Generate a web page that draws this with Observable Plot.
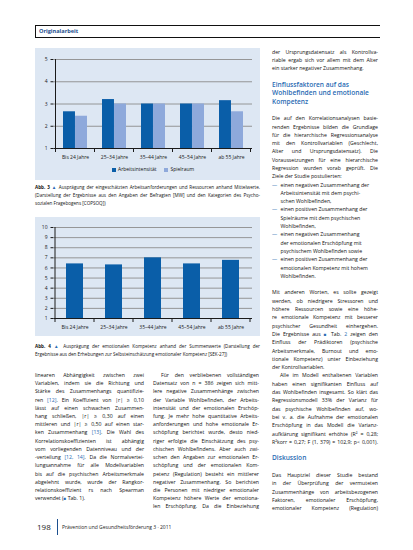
<!DOCTYPE html>
<html><head><meta charset="utf-8">
<script src="https://cdn.jsdelivr.net/npm/d3@7"></script>
<script src="https://cdn.jsdelivr.net/npm/@observablehq/plot@0.6"></script>
<style>
html,body{margin:0;padding:0;background:#fff}
body{width:413px;height:550px;position:relative;overflow:hidden;font-family:"Open Sans",sans-serif;color:#111}
.abs{position:absolute}
.panel{position:absolute;background:#dde7f3}
.col{position:absolute;font-size:5.2px}
.col .ln{text-align:justify;text-align-last:justify;white-space:nowrap;overflow:visible}
.col .ln.l{text-align-last:left}
.col .ln.ind{padding-left:8px}
.col .ln.h{color:#2a6bb3;font-size:6.6px;font-weight:600;text-align-last:left}
.col .ln.li{padding-left:8.5px;text-align-last:left;position:relative}
.col .ln.li .d{position:absolute;left:0;color:#2a6bb3}
.blue{color:#2a6bb3}
.sq{color:#2a6bb3;font-size:4.5px}
.cap{position:absolute;font-size:4.6px;width:225px}
.cap .ln{text-align:justify;text-align-last:justify;white-space:nowrap;height:8px;line-height:8px}
.cap .ln.l{text-align-last:left}
.legend{position:absolute;font-size:5px;display:flex;align-items:center;gap:8px}
.legend span.sw{display:inline-block;width:4px;height:4px;margin-right:2px;vertical-align:middle}
</style></head>
<body>
<div class="abs" style="left:35px;top:25px;width:344px;height:11px;border-top:1px solid #111;border-bottom:1px solid #111;border-left:1px solid #111;"></div>
<div class="abs" style="left:39px;top:27px;font-size:5.6px;font-weight:700;color:#1c4f8e;line-height:8px">Originalarbeit</div>

<div class="panel" style="left:35px;top:48px;width:225px;height:132px"></div>
<div id="chart1" class="abs" style="left:35px;top:48px"></div>
<div id="legend1" class="legend" style="left:112px;top:165px;height:8px"></div>
<div id="cap3" class="cap" style="left:35px;top:183px"></div>

<div class="panel" style="left:35px;top:217px;width:225px;height:119px"></div>
<div id="chart2" class="abs" style="left:35px;top:217px"></div>
<div id="cap4" class="cap" style="left:35px;top:342px"></div>

<div id="colL" class="col" style="left:35px;top:370.9px;width:109px"></div>
<div id="colM" class="col" style="left:153px;top:370.9px;width:106px"></div>
<div id="colR" class="col" style="left:272px;top:47.85px;width:106px"></div>

<div class="abs" style="left:37px;top:521px;font-size:8px;line-height:12px;color:#222">198</div>
<div class="abs" style="left:56.5px;top:519px;width:1px;height:16px;background:#1c4f8e"></div>
<div class="abs" style="left:62px;top:524px;font-size:5px;line-height:6px;color:#222">Prävention und Gesundheitsförderung 3 · 2011</div>

<script>
// ---------- data ----------
const ageGroups = ["Bis 24 Jahre", "25–34 Jahre", "35–44 Jahre", "45–54 Jahre", "ab 55 Jahre"];
const series3 = ["Arbeitsintensität", "Spielraum"];
const arbeitsintensitaet = [2.65, 3.2, 3.0, 3.0, 3.15];
const spielraum = [2.45, 3.0, 3.0, 3.0, 2.65];
const yTicks3 = [1, 2, 3, 4, 5];
const emotionaleKompetenz = [6.4, 6.3, 7.0, 6.4, 6.75];
const yTicks4 = [1, 2, 3, 4, 5, 6, 7, 8, 9, 10];

const caption3 = [
  ["j", "<b>Abb. 3</b> <span class='blue'>▲</span> Ausprägung der eingeschätzten Arbeitsanforderungen und Ressourcen anhand Mittelwerte."],
  ["j", "(Darstellung der Ergebnisse aus den Angaben der Befragten [MW] und den Kategorien des Psycho-"],
  ["l", "sozialen Fragebogens [COPSOQ])"]
];
const caption4 = [
  ["j", "<b>Abb. 4</b> <span class='blue'>▲</span> Ausprägung der emotionalen Kompetenz anhand der Summenwerte (Darstellung der"],
  ["l", "Ergebnisse aus den Erhebungen zur Selbsteinschätzung emotionaler Kompetenz [SEK-27])"]
];
const textLeft = [
  ["j", "linearen Abhängigkeit zwischen zwei"],
  ["j", "Variablen, indem sie die Richtung und"],
  ["j", "Stärke des Zusammenhangs quantifizie-"],
  ["j", "ren <span class='blue'>[12]</span>. Ein Koeffizient von |r| ≥ 0,10"],
  ["j", "lässt auf einen schwachen Zusammen-"],
  ["j", "hang schließen, |r| ≥ 0,30 auf einen"],
  ["j", "mittleren und |r| ≥ 0,50 auf einen star-"],
  ["j", "ken Zusammenhang <span class='blue'>[13]</span>. Die Wahl des"],
  ["j", "Korrelationskoeffizienten ist abhängig"],
  ["j", "vom vorliegenden Datenniveau und der"],
  ["j", "-verteilung <span class='blue'>[12, 14]</span>. Da die Normalvertei-"],
  ["j", "lungsannahme für alle Modellvariablen"],
  ["j", "bis auf die psychischen Arbeitsmerkmale"],
  ["j", "abgelehnt wurde, wurde der Rangkor-"],
  ["j", "relationskoeffizient rs nach Spearman"],
  ["l", "verwendet (<span class='sq'>■</span> Tab. 1)."]
];
const textMid = [
  ["i", "Für den verbliebenen vollständigen"],
  ["j", "Datensatz von n = 386 zeigen sich mitt-"],
  ["j", "lere negative Zusammenhänge zwischen"],
  ["j", "der Variable Wohlbefinden, der Arbeits-"],
  ["j", "intensität und der emotionalen Erschöp-"],
  ["j", "fung. Je mehr hohe quantitative Arbeits-"],
  ["j", "anforderungen und hohe emotionale Er-"],
  ["j", "schöpfung berichtet wurde, desto nied-"],
  ["j", "riger erfolgte die Einschätzung des psy-"],
  ["j", "chischen Wohlbefindens. Aber auch zwi-"],
  ["j", "schen den Angaben zur emotionalen Er-"],
  ["j", "schöpfung und der emotionalen Kom-"],
  ["j", "petenz (Regulation) besteht ein mittlerer"],
  ["j", "negativer Zusammenhang. So berichten"],
  ["j", "die Personen mit niedriger emotionaler"],
  ["j", "Kompetenz höhere Werte der emotiona-"],
  ["j", "len Erschöpfung. Da die Einbeziehung"]
];
const textRight = [
  ["j", "der Ursprungsdatensatz als Kontrollva-"],
  ["j", "riable ergab sich vor allem mit dem Alter"],
  ["l", "ein starker negativer Zusammenhang."],
  ["b", ""],
  ["h", "Einflussfaktoren auf das"],
  ["h", "Wohlbefinden und emotionale"],
  ["h", "Kompetenz"],
  ["b", ""],
  ["j", "Die auf den Korrelationsanalysen basie-"],
  ["j", "renden Ergebnisse bilden die Grundlage"],
  ["j", "für die hierarchische Regressionsanalyse"],
  ["j", "mit den Kontrollvariablen (Geschlecht,"],
  ["j", "Alter und Ursprungsdatensatz). Die"],
  ["j", "Voraussetzungen für eine hierarchische"],
  ["j", "Regression wurden vorab geprüft. Die"],
  ["l", "Ziele der Studie postulierten:"],
  ["d", "einen negativen Zusammenhang der"],
  ["c", "Arbeitsintensität mit dem psychi-"],
  ["c", "schen Wohlbefinden,"],
  ["d", "einen positiven Zusammenhang der"],
  ["c", "Spielräume mit dem psychischen"],
  ["c", "Wohlbefinden,"],
  ["d", "einen negativen Zusammenhang"],
  ["c", "der emotionalen Erschöpfung mit"],
  ["c", "psychischem Wohlbefinden sowie"],
  ["d", "einen positiven Zusammenhang der"],
  ["c", "emotionalen Kompetenz mit hohem"],
  ["c", "Wohlbefinden."],
  ["b", ""],
  ["j", "Mit anderen Worten, es sollte gezeigt"],
  ["j", "werden, ob niedrigere Stressoren und"],
  ["j", "höhere Ressourcen sowie eine höhe-"],
  ["j", "re emotionale Kompetenz mit besserer"],
  ["j", "psychischer Gesundheit einhergehen."],
  ["j", "Die Ergebnisse aus <span class='sq'>■</span> Tab. <span class='blue'>2</span> zeigen den"],
  ["j", "Einfluss der Prädiktoren (psychische"],
  ["j", "Arbeitsmerkmale, Burnout und emo-"],
  ["j", "tionale Kompetenz) unter Einbeziehung"],
  ["l", "der Kontrollvariablen."],
  ["i", "Alle im Modell enthaltenen Variablen"],
  ["j", "haben einen signifikanten Einfluss auf"],
  ["j", "das Wohlbefinden insgesamt. So klärt das"],
  ["j", "Regressionsmodell 33% der Varianz für"],
  ["j", "das psychische Wohlbefinden auf, wo-"],
  ["j", "bei v. a. die Aufnahme der emotionalen"],
  ["j", "Erschöpfung in das Modell die Varianz-"],
  ["j", "aufklärung signifikant erhöhte (R² = 0,28;"],
  ["j", "R²korr = 0,27; F (1, 379) = 102,9; p< 0,001)."],
  ["b", ""],
  ["h", "Diskussion"],
  ["b", ""],
  ["j", "Das Hauptziel dieser Studie bestand"],
  ["j", "in der Überprüfung der vermuteten"],
  ["j", "Zusammenhänge von arbeitsbezogenen"],
  ["j", "Faktoren, emotionaler Erschöpfung,"],
  ["j", "emotionaler Kompetenz (Regulation)"]
];

// ---------- colours / layout ----------
const darkBlue = "#0a5ea8", lightBlue = "#8ea9db", gridGrey = "#8c8c8c", ink = "#1a1a1a";
const W = 225, mL = 18.5, mR = 8;
const step = (W - mL - mR) / ageGroups.length;

function axisDecor(svg, len) {
  const sx = svg.scale("x"), sy = svg.scale("y");
  const gap = (sx.step - sx.bandwidth) / 2;
  const xs = sx.domain.map(d => sx.apply(d) - gap);
  xs.push(sx.apply(sx.domain[sx.domain.length - 1]) + sx.bandwidth + gap);
  const y0 = sy.apply(sy.domain[0]), y1 = sy.apply(sy.domain[1]);
  const g = d3.select(svg).append("g").attr("stroke", ink).attr("stroke-width", 1);
  g.append("line").attr("x1", xs[0]).attr("x2", xs[0]).attr("y1", y1).attr("y2", y0);
  g.selectAll(null).data(xs).join("line")
    .attr("x1", d => d).attr("x2", d => d).attr("y1", y0).attr("y2", y0 + len);
}

const axisStyle = {background: "transparent", fontFamily: "Open Sans, sans-serif", fontSize: "5px", color: ink, overflow: "visible"};

// ---------- chart 1 (Abb. 3) ----------
const rows3 = ageGroups.map((g, i) => ({group: g, a: arbeitsintensitaet[i], s: spielraum[i]}));
const pad3 = 0.394;
const half3 = step * (1 - pad3) / 2;
const p1 = Plot.plot({
  width: W, height: 118, marginLeft: mL, marginRight: mR, marginTop: 11, marginBottom: 18,
  style: axisStyle,
  x: {domain: ageGroups, paddingInner: pad3, paddingOuter: pad3 / 2, label: null, tickSize: 0, tickPadding: 6.5},
  y: {domain: [1, 5], ticks: yTicks3, label: null, tickSize: 3, tickPadding: 3.5, tickFormat: d => String(d)},
  marks: [
    Plot.gridY(yTicks3.slice(1), {stroke: gridGrey, strokeOpacity: 1, strokeWidth: 0.9}),
    Plot.barY(rows3, {x: "group", y1: 1, y2: "a", fill: darkBlue, insetRight: half3}),
    Plot.barY(rows3, {x: "group", y1: 1, y2: "s", fill: lightBlue, insetLeft: half3}),
    Plot.ruleY([1], {stroke: ink})
  ]
});
document.getElementById("chart1").append(p1);
axisDecor(p1, 4);

const lg = d3.select("#legend1");
series3.forEach((s, i) => {
  const it = lg.append("div");
  it.append("span").attr("class", "sw").style("background", [darkBlue, lightBlue][i]);
  it.append("span").text(s);
});

// ---------- chart 2 (Abb. 4) ----------
const rows4 = ageGroups.map((g, i) => ({group: g, v: emotionaleKompetenz[i]}));
const pad4 = 0.57;
const p2 = Plot.plot({
  width: W, height: 119, marginLeft: mL, marginRight: mR, marginTop: 10, marginBottom: 18,
  style: axisStyle,
  x: {domain: ageGroups, paddingInner: pad4, paddingOuter: pad4 / 2, label: null, tickSize: 0, tickPadding: 6.5},
  y: {domain: [1, 10], ticks: yTicks4, label: null, tickSize: 3, tickPadding: 3.5, tickFormat: d => String(d)},
  marks: [
    Plot.gridY(yTicks4.slice(1), {stroke: gridGrey, strokeOpacity: 1, strokeWidth: 0.9}),
    Plot.barY(rows4, {x: "group", y1: 1, y2: "v", fill: darkBlue}),
    Plot.ruleY([1], {stroke: ink})
  ]
});
document.getElementById("chart2").append(p2);
axisDecor(p2, 4);

// ---------- text blocks ----------
function fillCol(id, lines, lh) {
  const el = document.getElementById(id);
  for (const [k, t] of lines) {
    const d = document.createElement("div");
    d.className = "ln" + ({l: " l", i: " ind", h: " h", d: " li", c: " li", b: " l"}[k] || "");
    d.style.height = lh + "px";
    d.style.lineHeight = lh + "px";
    if (k === "d") d.innerHTML = "<span class='d'>—</span>" + t;
    else d.innerHTML = t || "&nbsp;";
    el.appendChild(d);
  }
}
fillCol("colL", textLeft, 8.22);
fillCol("colM", textMid, 8.22);
fillCol("colR", textRight, 8.31);

function fillCap(id, lines) {
  const el = document.getElementById(id);
  for (const [k, t] of lines) {
    const d = document.createElement("div");
    d.className = "ln" + (k === "l" ? " l" : "");
    d.innerHTML = t;
    el.appendChild(d);
  }
}
fillCap("cap3", caption3);
fillCap("cap4", caption4);
</script>
</body></html>
